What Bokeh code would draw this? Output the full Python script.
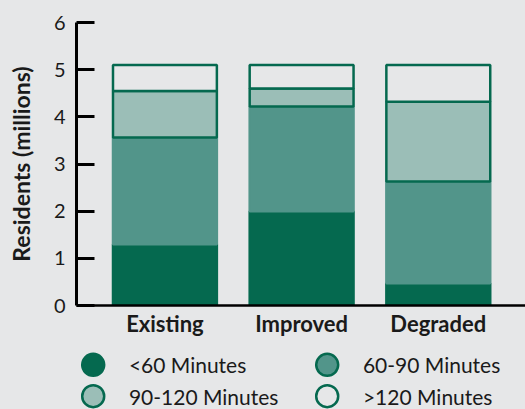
from bokeh.plotting import figure
from bokeh.models import Range1d, FixedTicker, ColumnDataSource
from bokeh.layouts import column
from bokeh.embed import file_html
from bokeh.resources import INLINE
from bokeh.core.properties import value

# ---- data ----
categories = ["Existing", "Improved", "Degraded"]
series_names = ["<60 Minutes", "60-90 Minutes", "90-120 Minutes", ">120 Minutes"]
lt60 = [1.30, 2.00, 0.47]
m60_90 = [2.26, 2.22, 2.16]
m90_120 = [0.99, 0.38, 1.69]
gt120 = [0.55, 0.50, 0.78]
y_ticks = [0, 1, 2, 3, 4, 5, 6]

# ---- styles ----
BG = "#e6e7e8"
DARK = "#05694f"
MID = "#52958a"
LIGHT = "#9bbeb7"
fills = [DARK, MID, LIGHT, BG]
lines = [DARK, MID, DARK, DARK]
FONT = "Lato"
TXT = "#1a1a1a"

xs = [i + 0.5 for i in range(len(categories))]
src = ColumnDataSource(dict(x=xs, s0=lt60, s1=m60_90, s2=m90_120, s3=gt120))

p = figure(width=525, height=345, x_range=Range1d(-0.147, 3.138), y_range=Range1d(0, 6),
           output_backend="svg", toolbar_location=None,
           min_border_left=76, min_border_right=0, min_border_top=22, min_border_bottom=40)
p.background_fill_color = BG
p.border_fill_color = BG
p.outline_line_color = None
p.grid.visible = False

p.vbar_stack(["s0", "s1", "s2", "s3"], x="x", width=0.76, source=src,
             fill_color=fills, line_color=lines, line_width=2.5)

# y axis
ya = p.yaxis[0]
ya.ticker = FixedTicker(ticks=y_ticks)
ya.axis_line_color = "black"
ya.axis_line_width = 3
ya.major_tick_line_color = "black"
ya.major_tick_line_width = 3
ya.major_tick_in = 18
ya.major_tick_out = 0
ya.minor_tick_line_color = None
ya.major_label_text_font = FONT
ya.major_label_text_font_size = "20px"
ya.major_label_text_color = TXT
ya.major_label_standoff = 11
ya.axis_label = "Residents (millions)"
ya.axis_label_text_font = FONT
ya.axis_label_text_font_style = "bold"
ya.axis_label_text_font_size = "23px"
ya.axis_label_text_color = TXT
ya.axis_label_standoff = 16

# x axis
xa = p.xaxis[0]
xa.ticker = FixedTicker(ticks=xs)
xa.major_label_overrides = {x: c for x, c in zip(xs, categories)}
xa.axis_line_color = "black"
xa.axis_line_width = 2.5
xa.major_tick_line_color = None
xa.minor_tick_line_color = None
xa.major_label_text_font = FONT
xa.major_label_text_font_style = "bold"
xa.major_label_text_font_size = "22px"
xa.major_label_text_color = TXT
xa.major_label_standoff = -2

# ---- legend figure (frame aligned with the chart frame: x in page pixels) ----
lg = figure(width=525, height=64, x_range=Range1d(76, 525), y_range=Range1d(64, 0),
            output_backend="svg", toolbar_location=None,
            min_border_left=76, min_border_right=0, min_border_top=0, min_border_bottom=0)
lg.background_fill_color = BG
lg.border_fill_color = BG
lg.outline_line_color = None
lg.grid.visible = False
lg.axis.visible = False

col_x0, col_dx, row_y0, row_dy, txt_dx = 92.7, 234.0, 19.3, 31.4, 35.7
cx = [col_x0 + (i % 2) * col_dx for i in range(len(series_names))]
cy = [row_y0 + (i // 2) * row_dy for i in range(len(series_names))]
lsrc = ColumnDataSource(dict(x=cx, y=cy, tx=[v + txt_dx for v in cx], name=series_names,
                             fill=fills, line=lines[:1] * 4))
lg.scatter("x", "y", source=lsrc, size=22, fill_color="fill", line_color="line", line_width=2.5)
lg.text("tx", "y", text="name", source=lsrc, text_font=value(FONT), text_font_size="21px",
        text_color=TXT, text_baseline="middle", text_align="left")

layout = column(p, lg, spacing=0, styles={"background-color": BG})
open("out.html", "w").write(file_html(layout, INLINE))
